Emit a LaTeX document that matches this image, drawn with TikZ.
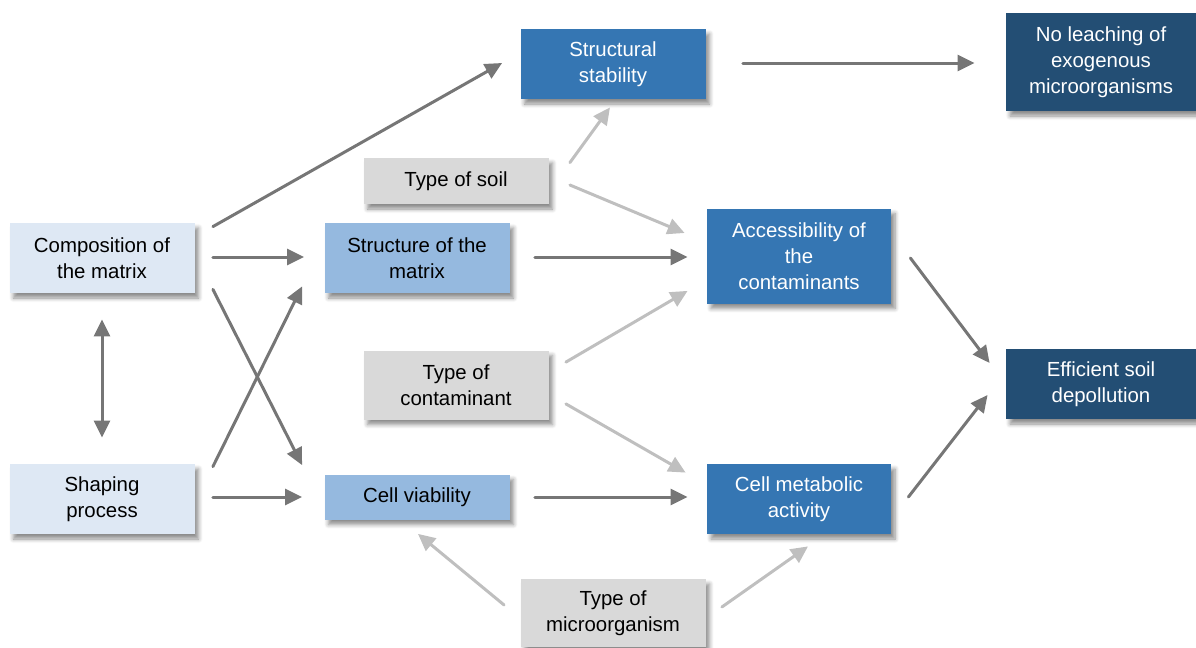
\documentclass[tikz,border=0pt]{standalone}
\usepackage{fontspec}
\setmainfont{Liberation Sans}
\usepackage{xcolor}
\usepackage{tikz}
\usetikzlibrary{arrows.meta,calc,shadows.blur}

\definecolor{paleblue}{HTML}{DEE8F4}
\definecolor{midblue}{HTML}{95B9DF}
\definecolor{strongblue}{HTML}{3576B3}
\definecolor{navyblue}{HTML}{234E74}
\definecolor{boxgray}{HTML}{D9D9D9}
\definecolor{darkarrow}{HTML}{767676}
\definecolor{lightarrow}{HTML}{BFBFBF}

\begin{document}
\begin{tikzpicture}[line cap=round,line join=round,x=0.5pt,y=-0.5pt,
		box/.style={rectangle,minimum width=92.5pt,minimum height=35pt,align=center,inner sep=2pt,
			font=\fontsize{10.2}{13}\selectfont,
			blur shadow={shadow xshift=2pt,shadow yshift=-2.5pt,shadow blur steps=6,shadow opacity=45}},
		inbox/.style={box,fill=paleblue},
		matbox/.style={box,fill=midblue},
		effbox/.style={box,fill=strongblue,text=white},
		endbox/.style={box,fill=navyblue,text=white,minimum width=95pt},
		factbox/.style={box,fill=boxgray},
		strong/.style={draw=darkarrow,line width=1.5pt,-{Triangle[length=8.5pt,width=8pt]}},
		weak/.style={draw=lightarrow,line width=1.5pt,-{Triangle[length=8.5pt,width=8pt]}}]
		\useasboundingbox (0,0) rectangle (1196,648);
		% nodes
		\node[inbox] (comp) at (102,258) {Composition of\\the matrix};
		\node[inbox] (shap) at (102,499) {Shaping\\process};
		\node[matbox] (struct) at (417,258) {Structure of the\\matrix};
		\node[matbox,minimum height=22.5pt] (cellv) at (417,497) {Cell viability};
		\node[factbox,minimum height=23pt] (soil) at (456,181) {Type of soil};
		\node[factbox,minimum height=34.5pt] (contam) at (456,385) {Type of\\contaminant};
		\node[factbox,minimum height=34pt] (micro) at (613,613) {Type of\\microorganism};
		\node[effbox] (stab) at (613,64) {Structural\\stability};
		\node[effbox,minimum width=92pt,minimum height=47.5pt] (access) at (799,256) {Accessibility of\\the\\contaminants};
		\node[effbox,minimum width=92pt] (metab) at (799,499) {Cell metabolic\\activity};
		\node[endbox,minimum height=49pt] (leach) at (1101,62) {No leaching of\\exogenous\\microorganisms};
		\node[endbox] (effic) at (1101,384) {Efficient soil\\depollution};
		% dark arrows
		\draw[strong] ($(comp.north east)+(18,4)$) -- ($(stab.west)+(-18,-1)$);
		\draw[strong] ($(comp.east)+(18,-1)$) -- ($(struct.west)+(-20,-1)$);
		\draw[strong] ($(comp.south east)+(18,-4)$) -- ($(cellv.north west)+(-22,-9)$);
		\draw[strong] ($(shap.north east)+(18,3)$) -- ($(struct.south west)+(-22,-7)$);
		\draw[strong] ($(shap.east)+(18,-2)$) -- ($(cellv.west)+(-22,0)$);
		\draw[strong,{Triangle[length=8.5pt,width=8pt]}-{Triangle[length=8.5pt,width=8pt]}] ($(comp.south)+(0,26)$) -- ($(shap.north)+(0,-26)$);
		\draw[strong] ($(stab.east)+(37,-1)$) -- ($(leach.west)+(-31,1)$);
		\draw[strong] ($(struct.east)+(25,-1)$) -- ($(access.west)+(-19,1)$);
		\draw[strong] ($(cellv.east)+(25,0)$) -- ($(metab.west)+(-19,-2)$);
		\draw[strong] ($(access.east)+(19,2)$) -- ($(effic.west)+(-16,-21)$);
		\draw[strong] ($(metab.east)+(17,-2)$) -- ($(effic.west)+(-18,11)$);
		% light arrows
		\draw[weak] ($(soil.north east)+(21,5)$) -- ($(stab.south)+(-3,8)$);
		\draw[weak] ($(soil.east)+(21,4)$) -- ($(access.west)+(-22,-23)$);
		\draw[weak] ($(contam.north east)+(17,12)$) -- ($(access.south west)+(-19,-13)$);
		\draw[weak] ($(contam.south east)+(17,-16)$) -- ($(metab.north west)+(-21,9)$);
		\draw[weak] ($(micro.west)+(-16,-8)$) -- ($(cellv.south)+(1,14)$);
		\draw[weak] ($(micro.east)+(16,-6)$) -- ($(metab.south)+(9,12)$);
	\end{tikzpicture}
\end{document}
